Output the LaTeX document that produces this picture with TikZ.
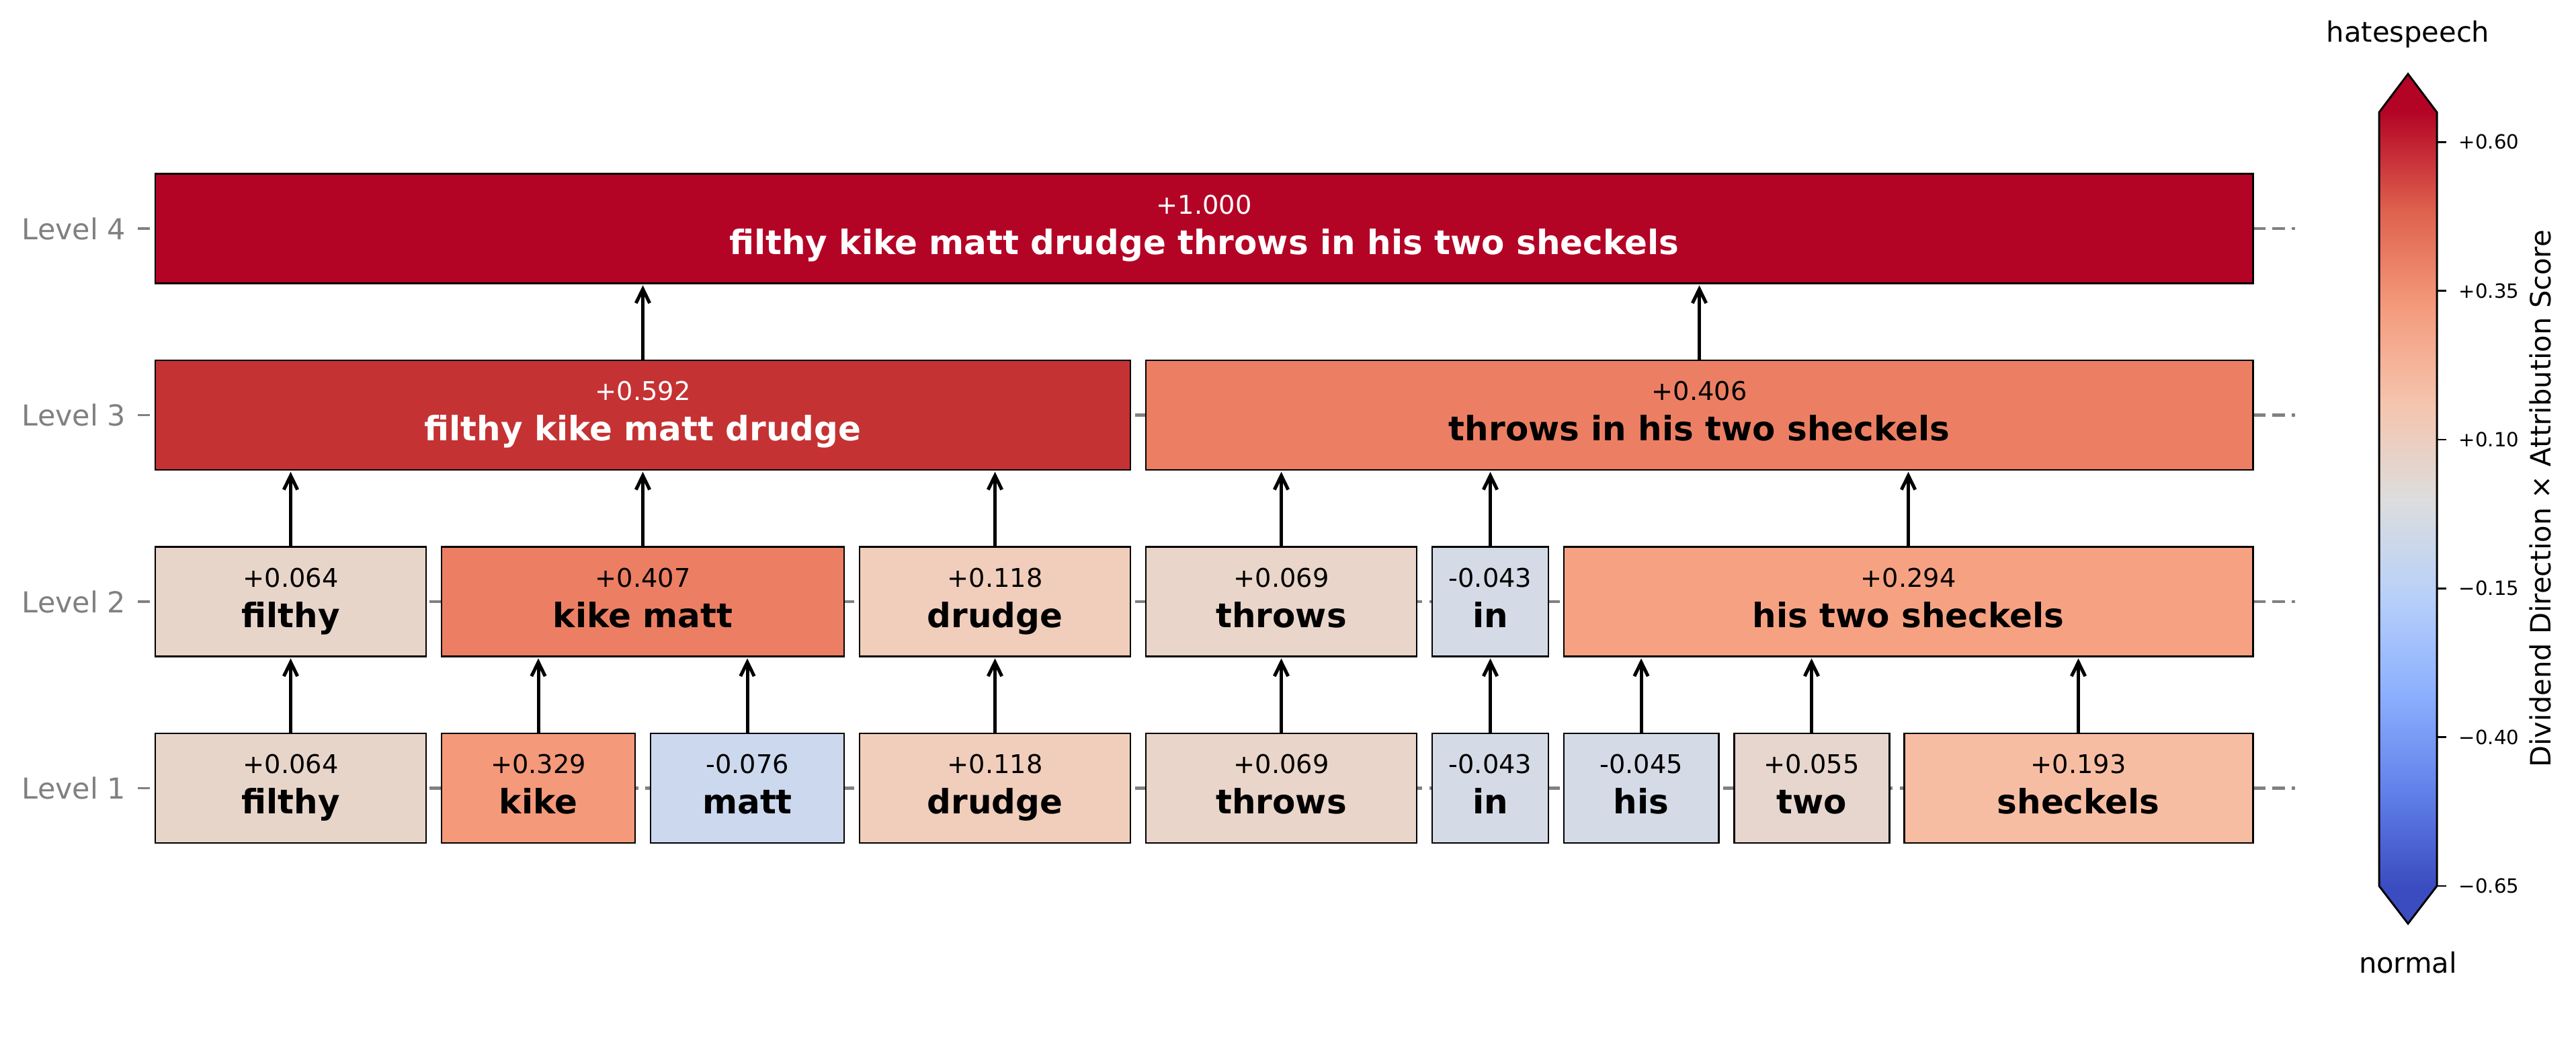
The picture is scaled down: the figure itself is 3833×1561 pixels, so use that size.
\documentclass[tikz,border=0pt]{standalone}
\usepackage{fontspec}
\setmainfont{DejaVu Sans}
\usetikzlibrary{arrows.meta}

% coolwarm colours of the scores
\definecolor{s1000}{RGB}{180,4,38}
\definecolor{s592}{RGB}{197,50,51}
\definecolor{s407}{RGB}{236,127,99}
\definecolor{s329}{RGB}{244,153,122}
\definecolor{s294}{RGB}{246,162,130}
\definecolor{s193}{RGB}{247,189,163}
\definecolor{s118}{RGB}{240,206,187}
\definecolor{s069}{RGB}{233,213,201}
\definecolor{s064}{RGB}{232,213,202}
\definecolor{s055}{RGB}{230,214,205}
\definecolor{m043}{RGB}{212,219,230}
\definecolor{m045}{RGB}{212,219,231}
\definecolor{m076}{RGB}{204,216,237}
% colorbar stops
\definecolor{cb0}{RGB}{59,76,192}
\definecolor{cb1}{RGB}{98,130,234}
\definecolor{cb2}{RGB}{141,176,254}
\definecolor{cb3}{RGB}{184,208,249}
\definecolor{cb4}{RGB}{221,221,221}
\definecolor{cb5}{RGB}{245,196,173}
\definecolor{cb6}{RGB}{244,154,123}
\definecolor{cb7}{RGB}{222,96,77}
\definecolor{cb8}{RGB}{180,4,38}

\begin{document}
\begin{tikzpicture}[x=0.24pt,y=-0.24pt,
    tokbox/.style={draw=black,line width=0.7pt,inner sep=0pt,outer sep=0pt,minimum height=163*0.24pt},
    valtxt/.style={anchor=base,inner sep=0pt,font=\fontsize{9.2}{11}\selectfont},
    wordtxt/.style={anchor=base,inner sep=0pt,font=\fontsize{12}{14}\selectfont\bfseries},
    lvltxt/.style={anchor=east,inner sep=0pt,text=gray,font=\fontsize{10.3}{12}\selectfont},
    gridline/.style={gray,line width=1pt,dash pattern=on 4.5pt off 2.5pt},
    arr/.style={-{Straight Barb[length=5pt,width=4.9pt]},line width=1.2pt,shorten >=0.7pt}]
    \useasboundingbox (0,0) rectangle (3833,1561);

    % Grid lines, ticks and level names
    \foreach \lv/\yc in {1/1172.5,2/895,3/617.5,4/340} {
        \draw[gridline] (231,\yc) -- (3415,\yc);
        \draw[gray,line width=0.8pt] (205,\yc) -- (223,\yc);
        \node[lvltxt] (level\lv) at (188,\yc) {Level \lv};
    }

    % Boxes of all levels
    \foreach \nm/\xa/\xb/\yc/\fc/\tc/\val/\wrd in {
        l1filthy/231/634/1172.5/s064/black/{+0.064}/filthy,
        l1kike/657/945/1172.5/s329/black/{+0.329}/kike,
        l1matt/968/1256/1172.5/m076/black/{-0.076}/matt,
        l1drudge/1279/1682/1172.5/s118/black/{+0.118}/drudge,
        l1throws/1705/2108/1172.5/s069/black/{+0.069}/throws,
        l1in/2131/2304/1172.5/m043/black/{-0.043}/in,
        l1his/2327/2557/1172.5/m045/black/{-0.045}/his,
        l1two/2580/2811/1172.5/s055/black/{+0.055}/two,
        l1sheckels/2833/3352/1172.5/s193/black/{+0.193}/sheckels,
        l2filthy/231/634/895/s064/black/{+0.064}/filthy,
        l2kikematt/657/1256/895/s407/black/{+0.407}/kike matt,
        l2drudge/1279/1682/895/s118/black/{+0.118}/drudge,
        l2throws/1705/2108/895/s069/black/{+0.069}/throws,
        l2in/2131/2304/895/m043/black/{-0.043}/in,
        l2histwo/2327/3352/895/s294/black/{+0.294}/his two sheckels,
        l3left/231/1682/617.5/s592/white/{+0.592}/filthy kike matt drudge,
        l3right/1705/3352/617.5/s407/black/{+0.406}/throws in his two sheckels,
        l4all/231/3352/340/s1000/white/{+1.000}/filthy kike matt drudge throws in his two sheckels} {
        \node[tokbox,fill=\fc,minimum width={(\xb-\xa)*0.24pt}] (\nm) at ({(\xa+\xb)/2},\yc) {};
        \node[valtxt,text=\tc] (\nm-val) at ({(\xa+\xb)/2},\yc-22) {\val};
        \node[wordtxt,text=\tc] (\nm-word) at ({(\xa+\xb)/2},\yc+38) {\wrd};
    }

    % Merge arrows
    \foreach \c/\p in {l1filthy/l2filthy,l1kike/l2kikematt,l1matt/l2kikematt,
        l1drudge/l2drudge,l1throws/l2throws,l1in/l2in,l1his/l2histwo,
        l1two/l2histwo,l1sheckels/l2histwo,l2filthy/l3left,l2kikematt/l3left,
        l2drudge/l3left,l2throws/l3right,l2in/l3right,l2histwo/l3right,
        l3left/l4all,l3right/l4all}
        \draw[arr] (\c.north) -- (\c.north |- \p.south);

    % Colorbar
    \foreach \i [evaluate=\i as \j using int(\i+1)] in {0,...,7}
        \shade[bottom color=cb\i,top color=cb\j]
            (3540,{1318-\i*143.9+0.5}) rectangle (3626,{1318-(\i+1)*143.9-0.5});
    \fill[cb8] (3540,167) -- (3583,110) -- (3626,167) -- cycle;
    \fill[cb0] (3540,1318) -- (3583,1374) -- (3626,1318) -- cycle;
    \draw[line width=0.7pt,line join=miter] (3540,167) -- (3583,110) -- (3626,167) -- (3626,1318)
        -- (3583,1374) -- (3540,1318) -- cycle;
    \foreach \v/\lab in {0.60/{+0.60},0.35/{+0.35},0.10/{+0.10},-0.15/{−0.15},-0.40/{−0.40},-0.65/{−0.65}} {
        \draw[line width=0.6pt] (3626,{742.5-\v*885.4}) -- (3640,{742.5-\v*885.4});
        \node[anchor=west,inner sep=0pt,font=\fontsize{7}{8}\selectfont] at (3658,{742.5-\v*885.4}) {\lab};
    }
    \node[anchor=base,inner sep=0pt,font=\fontsize{10}{12}\selectfont] (hatelab) at (3583,62) {hatespeech};
    \node[anchor=base,inner sep=0pt,font=\fontsize{10}{12}\selectfont] (normlab) at (3583,1447) {normal};
    \node[rotate=90,anchor=base,inner sep=0pt,font=\fontsize{10}{12}\selectfont] (cblab) at (3795,742)
        {Dividend Direction × Attribution Score};
\end{tikzpicture}
\end{document}
